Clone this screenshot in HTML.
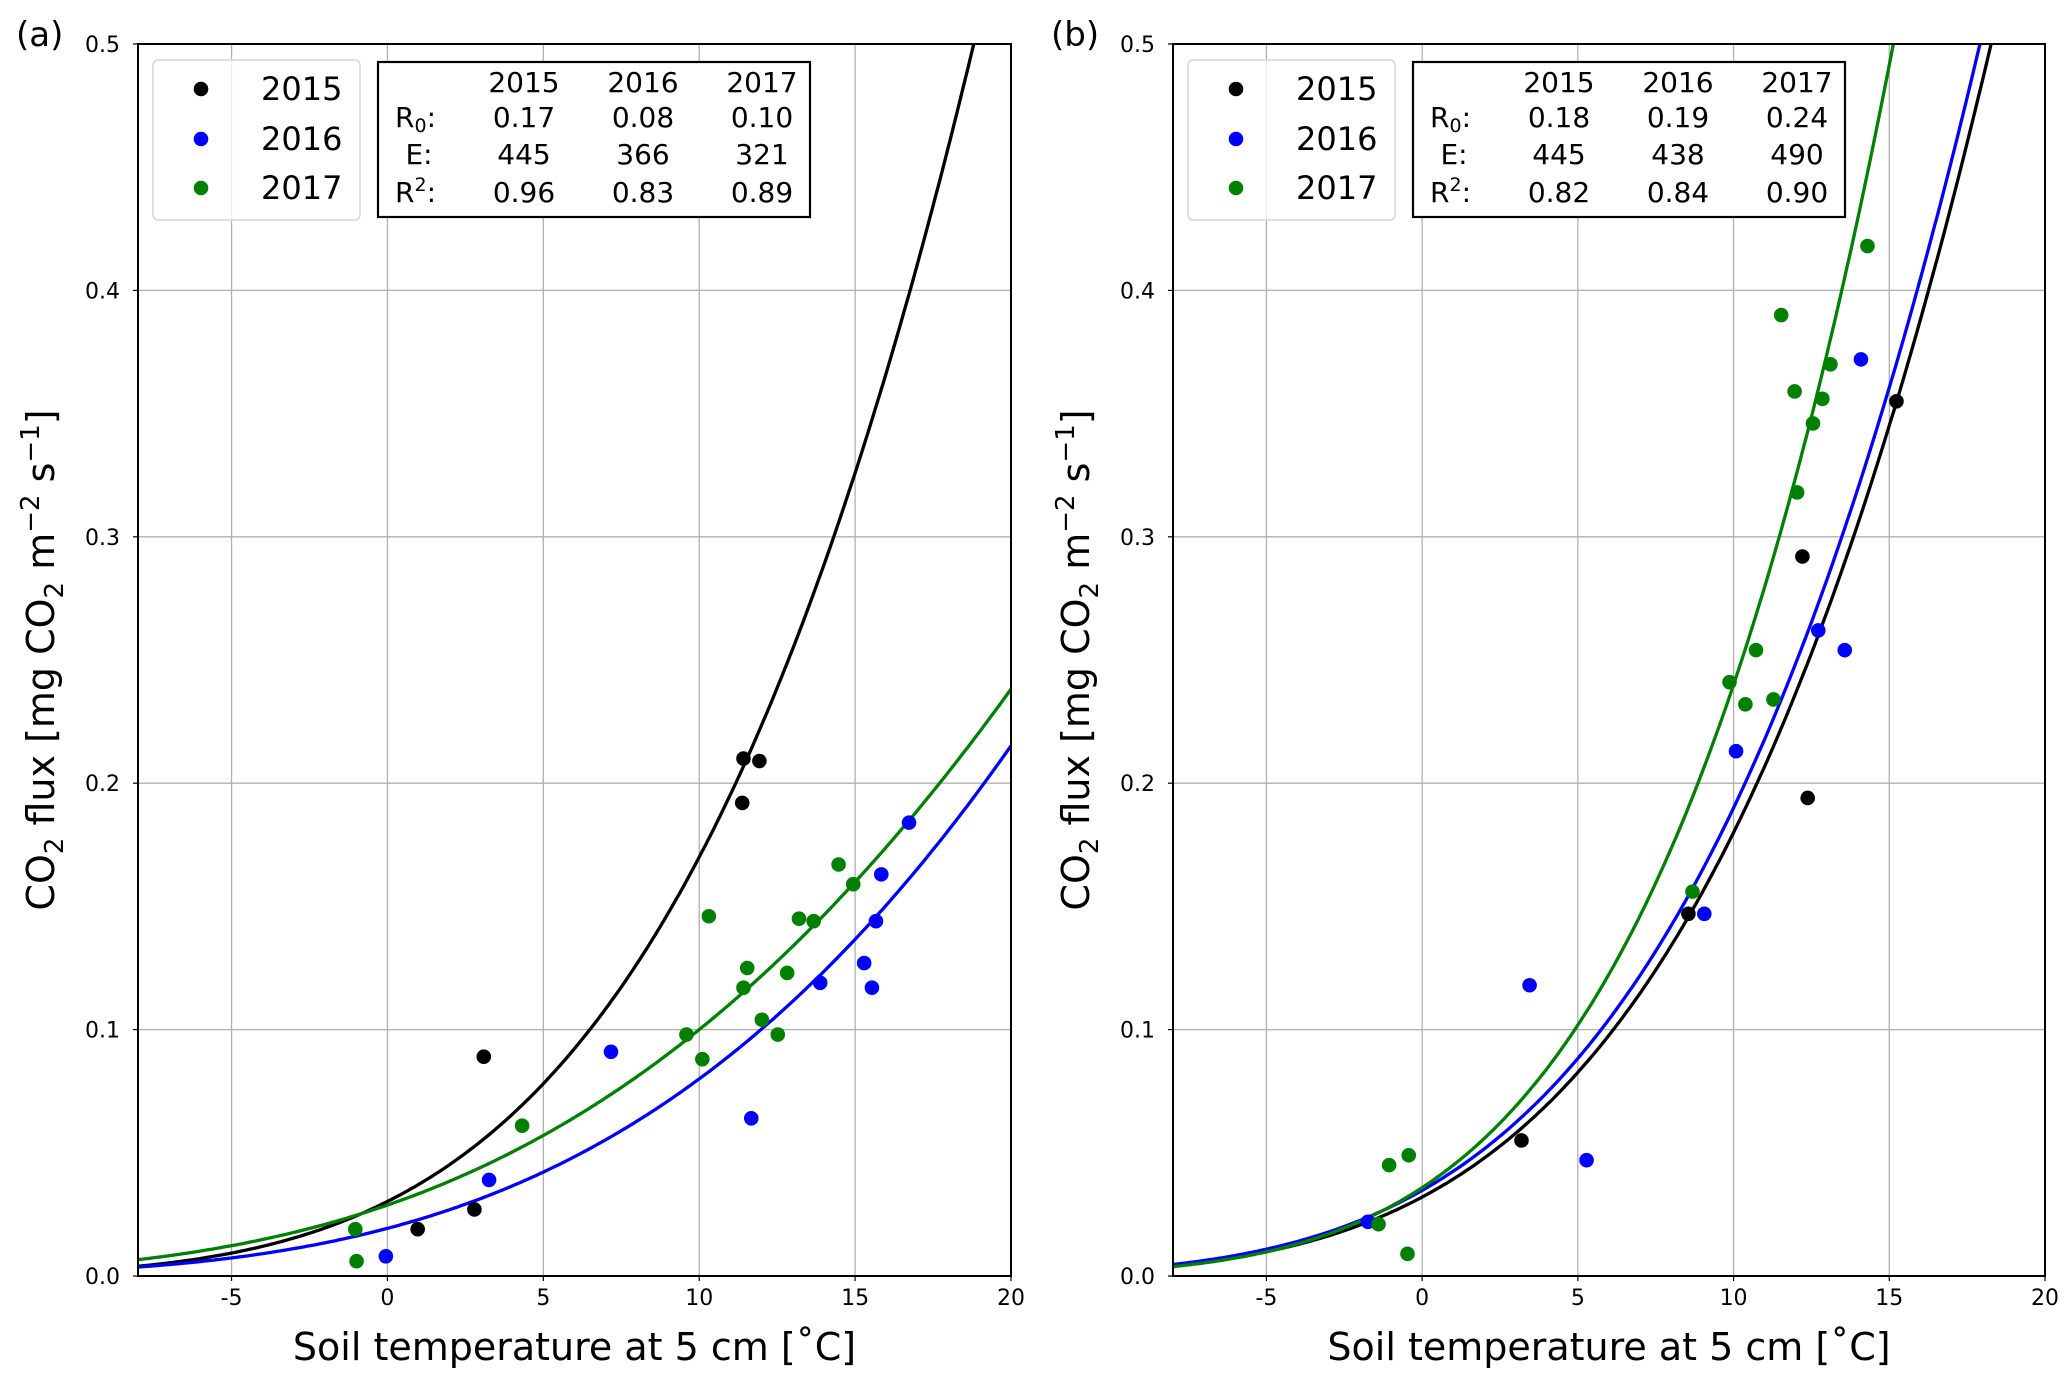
<!DOCTYPE html>
<html><head><meta charset="utf-8"><style>
html,body{margin:0;padding:0;background:#fff;}
svg{display:block;font-family:"DejaVu Sans","Liberation Sans",sans-serif;}
</style></head><body>
<svg id="fig" width="2067" height="1383" viewBox="0 0 2067 1383" xmlns="http://www.w3.org/2000/svg"></svg>
<script>
const years = ["2015","2016","2017"];
const colors = ["#000000","#0000ff","#008000"];
const xTicks = [-5,0,5,10,15,20];
const yTicks = [0.0,0.1,0.2,0.3,0.4,0.5];
const yTickLabels = ["0.0","0.1","0.2","0.3","0.4","0.5"];
// Panel (a)
const aR0 = [0.17,0.08,0.10];
const aE = [445,366,321];
const aR2 = ["0.96","0.83","0.89"];
const aR0Labels = ["0.17","0.08","0.10"];
const a2015x = [3.09,0.97,2.79,11.42,11.93,11.38];
const a2015y = [0.089,0.019,0.027,0.210,0.209,0.192];
const a2016x = [-0.05,3.26,7.17,11.67,15.29,15.54,15.67,15.84,16.73,13.88];
const a2016y = [0.008,0.039,0.091,0.064,0.127,0.117,0.144,0.163,0.184,0.119];
const a2017x = [-1.03,-0.99,4.32,9.59,10.1,10.31,11.42,11.54,12.01,12.52,12.82,13.2,13.67,14.47,14.94];
const a2017y = [0.019,0.006,0.061,0.098,0.088,0.146,0.117,0.125,0.104,0.098,0.123,0.145,0.144,0.167,0.159];
// Panel (b)
const bR0 = [0.18,0.19,0.24];
const bE = [445,438,490];
const bR2 = ["0.82","0.84","0.90"];
const bR0Labels = ["0.18","0.19","0.24"];
const b2015x = [3.19,8.55,12.21,12.38,15.23];
const b2015y = [0.055,0.147,0.292,0.194,0.355];
const b2016x = [-1.74,3.45,5.28,9.06,10.08,12.72,13.57,14.09];
const b2016y = [0.022,0.118,0.047,0.147,0.213,0.262,0.254,0.372];
const b2017x = [-1.06,-1.4,-0.43,-0.47,8.68,9.87,10.38,10.72,11.28,11.53,11.96,12.04,12.55,12.85,13.11,14.3];
const b2017y = [0.045,0.021,0.049,0.009,0.156,0.241,0.232,0.254,0.234,0.390,0.359,0.318,0.346,0.356,0.370,0.418];

const NS="http://www.w3.org/2000/svg";
const svg=document.getElementById('fig');
function mk(tag,attrs,parent,text){const e=document.createElementNS(NS,tag);for(const k in attrs)e.setAttribute(k,attrs[k]);if(text!==undefined)e.textContent=text;(parent||svg).appendChild(e);return e;}
function lloyd(R0,E,T){return R0*Math.exp(E*(1/(10+46.02)-1/(T+46.02)));}

function panel(p){
  const L=p.left,R=p.right,T=44,B=1276;
  const xs=v=>L+(v+8)/28*(R-L);
  const ys=v=>B-(v/0.5)*(B-T);
  const g=mk('g',{});
  
  
  const clipId='clip'+p.id;
  const cp=mk('clipPath',{id:clipId},g);mk('rect',{x:L,y:T,width:R-L,height:B-T},cp);
  xTicks.forEach(t=>{const l=mk('line',{x1:xs(t),x2:xs(t),y1:T,y2:B,stroke:'#b0b0b0','stroke-width':1.3},g);
    
    mk('line',{x1:xs(t),x2:xs(t),y1:B,y2:B+5,stroke:'#000','stroke-width':1.2},g);
    const tx=mk('text',{x:xs(t),y:B+29,'text-anchor':'middle','font-size':22},g,String(t));
    });
  yTicks.forEach((t,i)=>{const l=mk('line',{x1:L,x2:R,y1:ys(t),y2:ys(t),stroke:'#b0b0b0','stroke-width':1.3},g);
    
    mk('line',{x1:L-5,x2:L,y1:ys(t),y2:ys(t),stroke:'#000','stroke-width':1.2},g);
    const tx=mk('text',{x:L-18,y:ys(t)+8,'text-anchor':'end','font-size':22},g,yTickLabels[i]);
    });
  const cg=mk('g',{'clip-path':'url(#'+clipId+')'},g);
  for(let s=0;s<3;s++){let d='';for(let i=0;i<=300;i++){const x=-8+28*i/300;const y=Math.min(lloyd(p.R0[s],p.E[s],x),0.6);d+=(i?'L':'M')+xs(x).toFixed(1)+','+ys(y).toFixed(1);}
    const pa=mk('path',{d:d,fill:'none',stroke:colors[s],'stroke-width':3.3},cg);
    }
  for(let s=0;s<3;s++){const X=p.px[s],Y=p.py[s];for(let i=0;i<X.length;i++){
    const c=mk('circle',{cx:xs(X[i]),cy:ys(Y[i]),r:7.3,fill:colors[s]},cg);
    }}
  const fr=mk('rect',{x:L,y:T,width:R-L,height:B-T,fill:'none',stroke:'#000','stroke-width':2},g);
  
  const lx=L+15,ly=60;
  const lg=mk('g',{},g);
  mk('rect',{x:lx,y:ly,width:207,height:160,rx:5,fill:'#fff','fill-opacity':0.8,stroke:'#d6d6d6','stroke-width':1.5},lg);
  [89,139,188].forEach((yy,s)=>{mk('circle',{cx:lx+48,cy:yy,r:7.3,fill:colors[s]},lg);
    const t=mk('text',{x:lx+108,y:yy+11,'font-size':32},lg,years[s]);
    });
  const tx=L+240,ty=62;
  const tg=mk('g',{},g);
  mk('rect',{x:tx,y:ty,width:432,height:155,fill:'#fff',stroke:'#000','stroke-width':2.2},tg);
  const cols=[146,265,384];
  cols.forEach((c,i)=>mk('text',{x:tx+c,y:ty+30,'text-anchor':'middle','font-size':28},tg,years[i]));
  const rowsY=[65,102,140];
  const r0=mk('text',{x:tx+17,y:ty+rowsY[0],'font-size':28},tg);
  mk('tspan',{},r0,'R');mk('tspan',{'font-size':19,dy:5},r0,'0');mk('tspan',{dy:-5},r0,':');
  mk('text',{x:tx+41,y:ty+rowsY[1],'text-anchor':'middle','font-size':28},tg,'E:');
  const r2=mk('text',{x:tx+17,y:ty+rowsY[2],'font-size':28},tg);
  mk('tspan',{},r2,'R');mk('tspan',{'font-size':19,dy:-11},r2,'2');mk('tspan',{dy:11},r2,':');
  for(let i=0;i<3;i++){
    mk('text',{x:tx+cols[i],y:ty+rowsY[0],'text-anchor':'middle','font-size':28},tg,p.R0L[i]);
    mk('text',{x:tx+cols[i],y:ty+rowsY[1],'text-anchor':'middle','font-size':28},tg,String(p.E[i]));
    mk('text',{x:tx+cols[i],y:ty+rowsY[2],'text-anchor':'middle','font-size':28},tg,p.R2[i]);}
  const xl=mk('text',{x:(L+R)/2,y:1360,'text-anchor':'middle','font-size':38},g,'Soil temperature at 5 cm [˚C]');
  
  const yl=mk('text',{x:0,y:0,'text-anchor':'middle','font-size':38,transform:'translate('+(L-84)+',660) rotate(-90)'},g);
  
  mk('tspan',{},yl,'CO');mk('tspan',{'font-size':26,dy:9},yl,'2');mk('tspan',{dy:-9},yl,' flux [mg CO');
  mk('tspan',{'font-size':26,dy:9},yl,'2');mk('tspan',{dy:-9},yl,' m');mk('tspan',{'font-size':26,dy:-15},yl,'−2');
  mk('tspan',{dy:15},yl,' s');mk('tspan',{'font-size':26,dy:-15},yl,'−1');mk('tspan',{dy:15},yl,']');
  const pl=mk('text',{x:L-122,y:46,'font-size':34},g,'('+p.id+')');
  
}
panel({id:'a',left:138,right:1011,R0:aR0,E:aE,R2:aR2,R0L:aR0Labels,px:[a2015x,a2016x,a2017x],py:[a2015y,a2016y,a2017y]});
panel({id:'b',left:1173,right:2045,R0:bR0,E:bE,R2:bR2,R0L:bR0Labels,px:[b2015x,b2016x,b2017x],py:[b2015y,b2016y,b2017y]});
</script>
</body></html>
